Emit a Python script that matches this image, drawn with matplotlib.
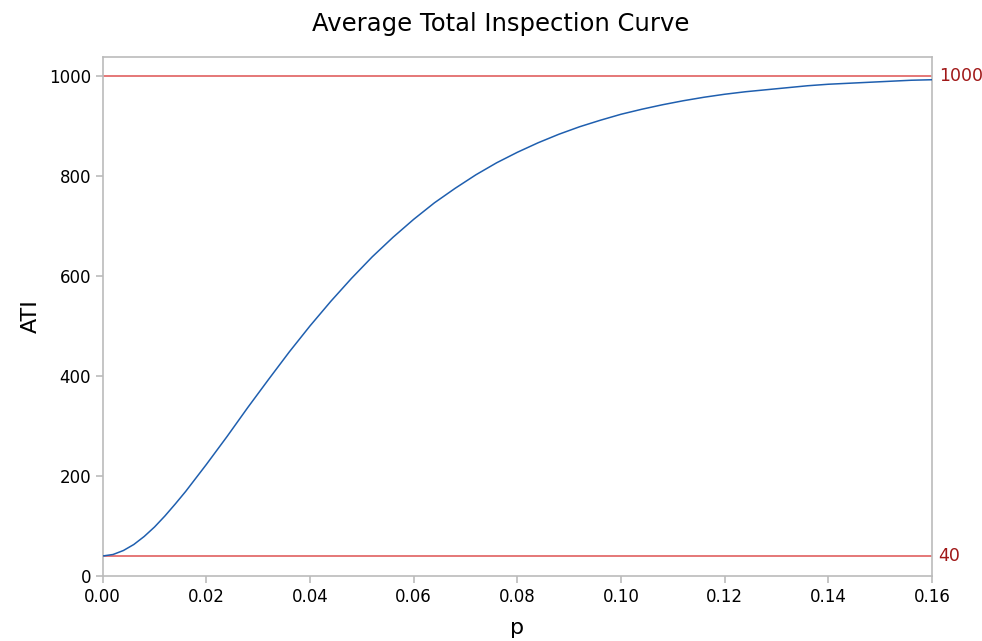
import matplotlib.pyplot as plt
import matplotlib.transforms as mtransforms

# ── data ──
p_vals = [0.000, 0.002, 0.004, 0.006, 0.008, 0.010, 0.012, 0.014, 0.016, 0.020,
          0.024, 0.028, 0.032, 0.036, 0.040, 0.044, 0.048, 0.052, 0.056, 0.060,
          0.064, 0.068, 0.072, 0.076, 0.080, 0.084, 0.088, 0.092, 0.096, 0.100,
          0.104, 0.108, 0.112, 0.116, 0.120, 0.124, 0.128, 0.132, 0.136, 0.140,
          0.144, 0.148, 0.152, 0.156, 0.160]
ati_vals = [40, 43, 51, 63, 79, 98, 120, 144, 169, 223,
            279, 337, 393, 448, 500, 549, 595, 638, 677, 713,
            746, 775, 802, 826, 847, 866, 883, 898, 911, 923,
            933, 942, 950, 957, 963, 968, 972, 976, 980, 983,
            985, 987, 989, 991, 992]
ref_lines = [1000, 40]
x_ticks = [0.00, 0.02, 0.04, 0.06, 0.08, 0.10, 0.12, 0.14, 0.16]
y_ticks = [0, 200, 400, 600, 800, 1000]

plt.rcParams["font.family"] = "DejaVu Sans"

fig = plt.figure(figsize=(9.82, 6.41), dpi=100)
ax = fig.add_axes([0.1046, 0.1014, 0.8445, 0.8101])

for v in ref_lines:
    ax.axhline(v, color="#E06060", lw=1.2, zorder=2)
ax.plot(p_vals, ati_vals, color="#1F5FAF", lw=1.1, zorder=3)

ax.set_xlim(0, 0.16)
ax.set_ylim(0, 1038)
ax.set_xticks(x_ticks)
ax.set_xticklabels([f"{t:.2f}" for t in x_ticks])
ax.set_yticks(y_ticks)

for s in ax.spines.values():
    s.set_color("#BBBBBB")
    s.set_linewidth(1.2)
ax.tick_params(colors="#BBBBBB", labelcolor="black", labelsize=12,
               length=5, width=1.2, direction="out")

trans = mtransforms.blended_transform_factory(ax.transAxes, ax.transData)
for v in ref_lines:
    ax.text(1.008, v, str(v), transform=trans, color="#A01818",
            fontsize=12.5, va="center", ha="left")

ax.set_xlabel("p", fontsize=16, labelpad=9)
ax.set_ylabel("ATI", fontsize=16, labelpad=6)
fig.text(0.51, 0.962, "Average Total Inspection Curve", ha="center",
         va="center", fontsize=17.5)

plt.savefig("out.png", dpi=100)
